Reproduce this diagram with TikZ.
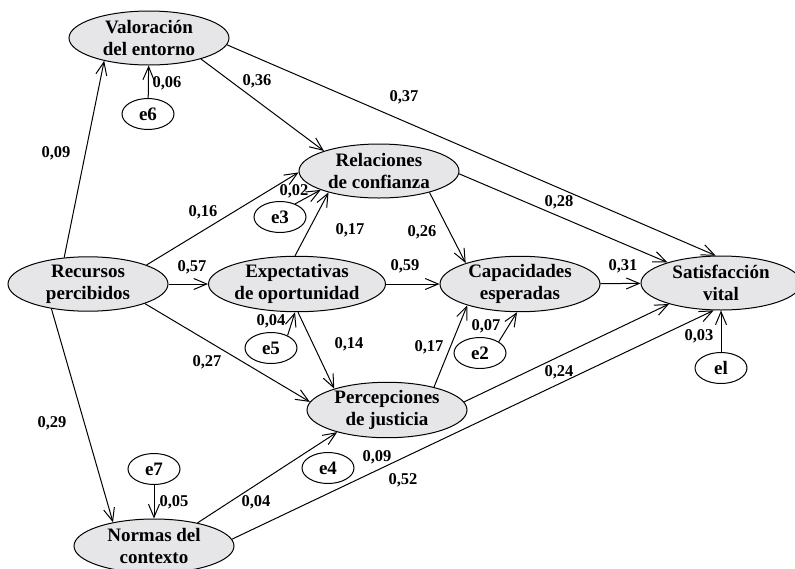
\documentclass[tikz,border=0pt]{standalone}
\usepackage{fontspec}
\setmainfont{Liberation Serif}
\usetikzlibrary{shapes.geometric,arrows.meta}
\definecolor{varfill}{RGB}{230,230,232}
\begin{document}
\begin{tikzpicture}[x=1pt, y=-1pt,
  main/.style = {draw, ellipse, fill=varfill, line width=1pt, minimum width=160pt, minimum height=54pt, inner sep=0pt, align=center, font=\fontsize{19}{22}\selectfont\bfseries},
  err/.style = {draw, ellipse, line width=1pt, minimum width=52pt, minimum height=31pt, inner sep=0pt, font=\fontsize{19}{22}\selectfont\bfseries},
  coef/.style = {inner sep=0pt, font=\fontsize{16.5}{16.5}\selectfont\bfseries},
  arr/.style = {-{Straight Barb[length=13pt,width=11pt]}, line width=1pt}]
\useasboundingbox (0,0) rectangle (795,568);
\node[main] (1) at (149,38) {Valoración\\del entorno};
\node[main] (2) at (379,171) {Relaciones\\de confianza};
\node[main] (3) at (297,284) {Expectativas\\de oportunidad};
\node[main] (4) at (88,284) {Recursos\\percibidos};
\node[main] (5) at (520,284) {Capacidades\\esperadas};
\node[main] (6) at (721,283) {Satisfacción\\vital};
\node[main] (7) at (387,410) {Percepciones\\de justicia};
\node[main] (8) at (154,546) {Normas del\\contexto};
\node[err] (e6) at (148,114) {e6};
\node[err] (e3) at (280,217) {e3};
\node[err] (e5) at (271,348) {e5};
\node[err] (e4) at (328,468) {e4};
\node[err] (e7) at (154,469) {e7};
\node[err] (e2) at (480,353) {e2};
\node[err] (el) at (721,368) {el};
% paths
\draw[arr] (4.132) -- (1.207);
\draw[arr] (e6) -- (1);
\draw[arr] (1.338) -- (2.160);
\draw[arr] (1.355) -- (6.101);
\draw[arr] (2.358) -- (6.159);
\draw[arr] (4.18) -- (2.181);
\draw[arr] (e3.41) -- (2.198);
\draw[arr] (3.94) -- (2.203);
\draw[arr] (2.337) -- (5.159);
\draw[arr] (4) -- (3);
\draw[arr] (3) -- (5);
\draw[arr] (5) -- (6);
\draw[arr] (e5.37) -- (3.266);
\draw[arr] (3.272) -- (7.158);
\draw[arr] (4.341) -- (7.174);
\draw[arr] (7.26) -- (5.202);
\draw[arr] (e2.31) -- (5.264);
\draw[arr] (7.6) -- (6.202);
\draw[arr] (8.5) -- (6.255);
\draw[arr] (el) -- (6);
\draw[arr] (4.214) -- (8.150);
\draw[arr] (e7) -- (8);
\draw[arr] (8.28) -- (7.204);
% coefficients
\node[coef] (l1) at (56,153) {0,09};
\node[coef] (l2) at (167,83) {0,06};
\node[coef] (l3) at (257,81) {0,36};
\node[coef] (l4) at (404,97) {0,37};
\node[coef] (l5) at (559,202) {0,28};
\node[coef] (l6) at (203,212) {0,16};
\node[coef] (l7) at (294,191) {0,02};
\node[coef] (l8) at (350,230) {0,17};
\node[coef] (l9) at (422,232) {0,26};
\node[coef] (l10) at (192,267) {0,57};
\node[coef] (l11) at (405,266) {0,59};
\node[coef] (l12) at (623,266) {0,31};
\node[coef] (l13) at (271,321) {0,04};
\node[coef] (l14) at (349,344) {0,14};
\node[coef] (l15) at (207,362) {0,27};
\node[coef] (l16) at (429,347) {0,17};
\node[coef] (l17) at (486,326) {0,07};
\node[coef] (l18) at (699,336) {0,03};
\node[coef] (l19) at (559,372) {0,24};
\node[coef] (l20) at (52,423) {0,29};
\node[coef] (l21) at (174,502) {0,05};
\node[coef] (l22) at (256,502) {0,04};
\node[coef] (l23) at (377,457) {0,09};
\node[coef] (l24) at (403,480) {0,52};
\end{tikzpicture}
\end{document}
